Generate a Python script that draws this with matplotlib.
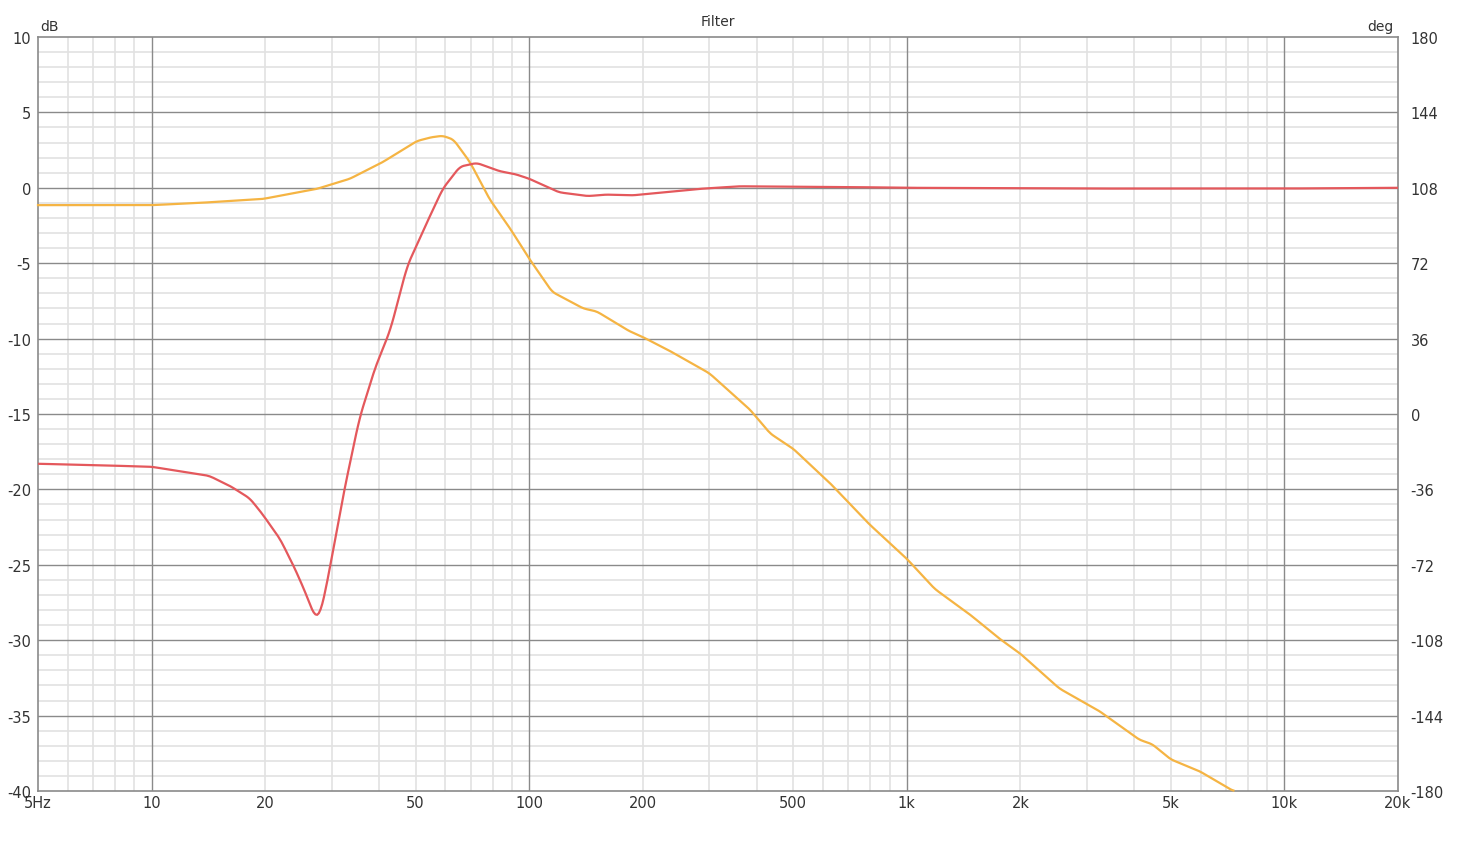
import numpy as np
import matplotlib
matplotlib.use("Agg")
import matplotlib.pyplot as plt
from matplotlib.ticker import FixedLocator, NullFormatter

# === Dados ===
freq_laranja = [5, 10, 13.4, 19.7, 27.4, 33.5, 40.9, 50.4, 55, 59, 63, 69.7, 78.5, 89, 100,
                115, 139, 151, 184, 200, 235, 300, 384, 435, 500, 627, 795, 1000,
                1186, 1470, 1760, 2000, 2535, 3236, 4130, 4470, 5000, 5975, 7330]
db_laranja = [-1.15, -1.15, -1.0, -0.74, -0.07, 0.6, 1.7, 3.1, 3.35, 3.45, 3.2, 1.7, -0.75, -2.7, -4.7,
              -6.9, -8.0, -8.2, -9.5, -9.9, -10.8, -12.3, -14.7, -16.3, -17.3, -19.6, -22.3, -24.6,
              -26.6, -28.3, -29.9, -30.9, -33.2, -34.7, -36.6, -36.9, -37.9, -38.7, -40.0]

freq_vermelho = [5, 7.3, 10, 11.9, 14.2, 16.2, 18.2, 19.6, 21.9, 24, 25.6, 26.5, 27.2, 27.9, 28.6, 29.6,
                 32.4, 35.5, 39, 42.9, 47.5, 53.6, 59, 65.5, 72.6, 83.5, 92, 100, 120, 143,
                 160, 188, 283, 360, 700, 1000, 3000, 10000, 20000]
db_vermelho = [-18.3, -18.4, -18.5, -18.8, -19.1, -19.8, -20.6, -21.6, -23.3, -25.3, -26.9, -27.9, -28.5, -28.3, -27.2, -25.3,
               -20.0, -15.3, -12.0, -9.4, -5.2, -2.3, -0.07, 1.4, 1.65, 1.1, 0.9, 0.6, -0.3, -0.55,
               -0.45, -0.5, -0.07, 0.1, 0.05, 0.0, -0.05, -0.05, 0.0]

x_ticks = [5, 10, 20, 50, 100, 200, 500, 1000, 2000, 5000, 10000, 20000]
x_labels = ["5Hz", "10", "20", "50", "100", "200", "500", "1k", "2k", "5k", "10k", "20k"]
db_ticks = [10, 5, 0, -5, -10, -15, -20, -25, -30, -35, -40]
deg_ticks = [180, 144, 108, 72, 36, 0, -36, -72, -108, -144, -180]

COR_LARANJA = "#f5b443"
COR_VERMELHO = "#e4585c"
COR_MAJOR = "#8a8a8a"
COR_MINOR = "#e2e2e2"


# === Interpolação suave em escala log (só para desenhar a curva) ===
def suavizar(freqs, valores, n=800, k=5):
    lf = np.log10(freqs)
    xs = np.linspace(lf[0], lf[-1], n)
    ys = np.interp(xs, lf, valores)
    ker = np.ones(k) / k
    pad = np.pad(ys, (k // 2, k // 2), mode="edge")
    ys = np.convolve(pad, ker, mode="valid")
    return 10 ** xs, ys


plt.rcParams['font.family'] = ['DejaVu Sans']
fig = plt.figure(figsize=(14.62, 8.54), dpi=100)
ax = fig.add_axes([38 / 1462, 1 - 792 / 854, 1360 / 1462, 754 / 854])

ax.set_xscale("log")
ax.set_xlim(5, 20000)
ax.set_ylim(-40, 10)

# grade
minor_x = []
for dec in [1, 10, 100, 1000, 10000]:
    for m in range(2, 10):
        f = m * dec
        if 5 < f < 20000:
            minor_x.append(f)
for f in minor_x:
    ax.axvline(f, color=COR_MINOR, lw=1.2, zorder=0)
for y in range(-40, 11):
    if y % 5 != 0:
        ax.axhline(y, color=COR_MINOR, lw=1.2, zorder=0)
for f in [10, 100, 1000, 10000]:
    ax.axvline(f, color=COR_MAJOR, lw=1.0, zorder=1)
for y in db_ticks[1:-1]:
    ax.axhline(y, color=COR_MAJOR, lw=1.0, zorder=1)

for s in ax.spines.values():
    s.set_color(COR_MAJOR)
    s.set_linewidth(1.2)

fx, fy = suavizar(freq_laranja, db_laranja)
mask = fy >= -40.2
ax.plot(fx[mask], fy[mask], color=COR_LARANJA, lw=1.6, zorder=3, clip_on=False)
vx, vy = suavizar(freq_vermelho, db_vermelho)
ax.plot(vx, vy, color=COR_VERMELHO, lw=1.6, zorder=3)

ax.xaxis.set_major_locator(FixedLocator(x_ticks))
ax.xaxis.set_minor_formatter(NullFormatter())
ax.set_xticklabels(x_labels)
ax.set_yticks(db_ticks)
ax.set_yticklabels([str(v) for v in db_ticks])
ax.tick_params(axis="both", which="both", length=0, labelsize=10.5, colors="#333333")
ax.tick_params(axis="x", pad=3)
ax.tick_params(axis="y", pad=5)

ax2 = ax.twinx()
ax2.set_ylim(-180, 180)
ax2.set_yticks(deg_ticks)
ax2.set_yticklabels([str(v) for v in deg_ticks])
ax2.tick_params(axis="y", length=0, labelsize=10.5, colors="#333333", pad=9)
for s in ax2.spines.values():
    s.set_visible(False)

fig.text(40 / 1462, 1 - 27 / 854, "dB", fontsize=10, color="#333333", va="center", ha="left")
fig.text(1394 / 1462, 1 - 27 / 854, "deg", fontsize=10, color="#333333", va="center", ha="right")
fig.text(718 / 1462, 1 - 22 / 854, "Filter", fontsize=10, color="#333333", va="center", ha="center")

fig.savefig("out.png", dpi=100, facecolor="white")
